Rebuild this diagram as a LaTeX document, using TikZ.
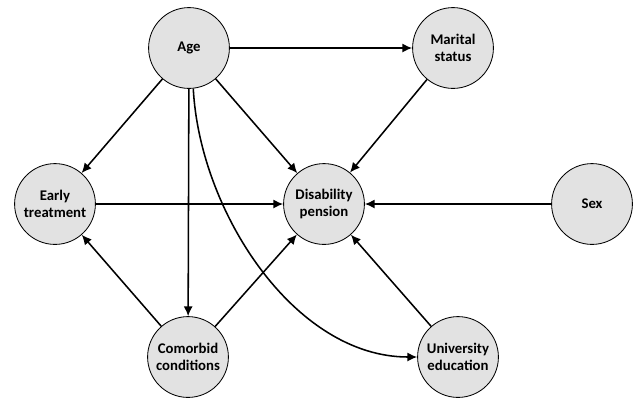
\documentclass[tikz,border=0pt]{standalone}
\usepackage{fontspec}
\setmainfont{Carlito}
\usetikzlibrary{positioning,arrows.meta}
\definecolor{nodegray}{RGB}{226,226,226}
\tikzstyle{var}=[draw, circle, fill=nodegray, minimum size=2.02cm, inner sep=0pt, line width=0.6pt, align=center, font=\fontsize{10.5}{12.5}\selectfont\bfseries]
\tikzstyle{arr}=[->, line width=1.1pt]

\begin{document}
\begin{tikzpicture}[x=0.025cm,y=-0.025cm,>={Latex[length=7pt,width=6.5pt]}]
\useasboundingbox (0,0) rectangle (636,397);

\node[var] at (189,48) (age) {Age};
\node[var] at (453,48) (marital) {Marital\\status};
\node[var] at (55,204) (early) {Early\\treatment};
\node[var] at (324,204) (disab) {Disability\\pension};
\node[var] at (592,204) (sex) {Sex};
\node[var] at (188,357) (comorb) {Comorbid\\conditions};
\node[var] at (458,357) (univ) {University\\education};

\draw[arr] (age) -- (marital);
\draw[arr] (age) -- (early);
\draw[arr] (age) -- (disab);
\draw[arr] (age) -- (comorb);
\draw[arr] (age.-84) to[out=-87, in=180, looseness=0.9] (univ.west);
\draw[arr] (marital) -- (disab);
\draw[arr] (early) -- (disab);
\draw[arr] (sex) -- (disab);
\draw[arr] (comorb) -- (early);
\draw[arr] (comorb) -- (disab);
\draw[arr] (univ) -- (disab);
\end{tikzpicture}
\end{document}
